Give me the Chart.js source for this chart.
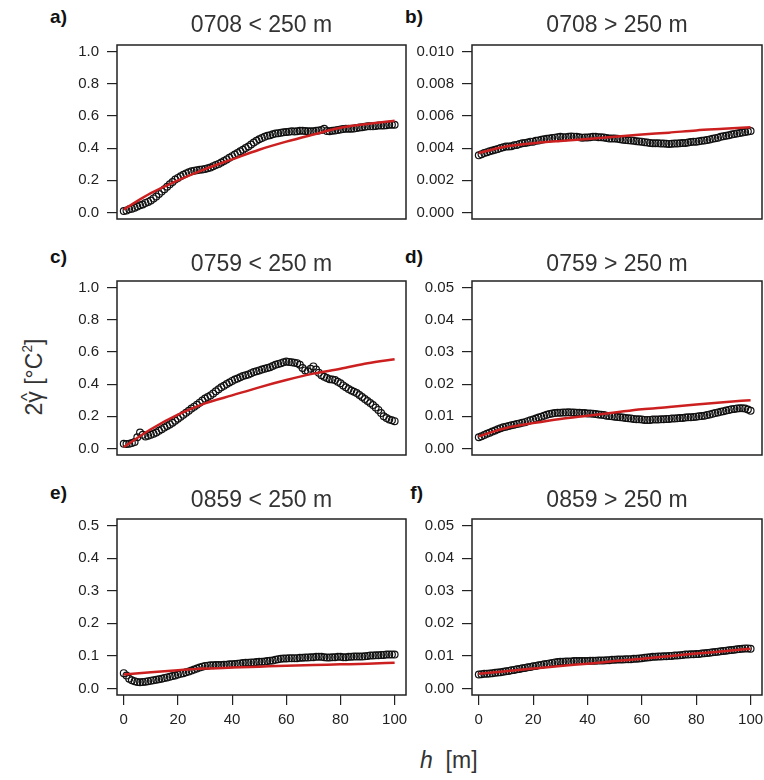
<!DOCTYPE html>
<html>
<head>
<meta charset="utf-8">
<script src="https://cdn.jsdelivr.net/npm/chart.js@4.4.1/dist/chart.umd.min.js"></script>
<style>
  html, body { margin:0; padding:0; background:#fff; width:764px; height:780px; overflow:hidden; }
  #wrap { position:relative; width:764px; height:780px; font-family:'Liberation Sans', Arial, sans-serif; color:#222; }
  canvas { position:absolute; }
  .title { position:absolute; font-size:23px; line-height:23px; text-align:center; color:#333; white-space:nowrap; }
  .plab { position:absolute; font-size:19px; line-height:19px; font-weight:bold; text-align:right; width:40px; color:#111; }
  #ylab { position:absolute; left:-66px; top:361.5px; width:200px; height:30px; line-height:30px; font-size:23px; text-align:center; transform:rotate(-90deg); color:#333; white-space:nowrap; }
  #xlab { position:absolute; left:420px; top:748.5px; font-size:23px; line-height:23px; color:#333; white-space:nowrap; }
  .hat { position:relative; display:inline-block; }
  .hat .h { position:absolute; left:0; width:100%; text-align:center; top:-0.42em; font-size:0.75em; }
  sup { font-size:0.6em; vertical-align:0.75em; line-height:0; }
</style>
</head>
<body>
<div id="wrap">
  <div class="plab" style="left:27px;top:7px">a)</div>
  <div class="plab" style="left:383px;top:7px">b)</div>
  <div class="plab" style="left:27px;top:246.5px">c)</div>
  <div class="plab" style="left:383px;top:246.5px">d)</div>
  <div class="plab" style="left:27px;top:483px">e)</div>
  <div class="plab" style="left:383px;top:483px">f)</div>
  <div id="ylab">2<span class="hat">γ<span class="h">^</span></span> [°C<sup>2</sup>]</div>
  <div id="xlab"><i>h</i>&nbsp;&nbsp;[m]</div>
</div>
<script>
// ---- data ----
const lags = [0,1,2,3,4,5,6,7,8,9,10,11,12,13,14,15,16,17,18,19,20,21,22,23,24,25,26,27,28,29,30,
              31,32,33,34,35,36,37,38,39,40,41,42,43,44,45,46,47,48,49,50,51,52,53,54,55,56,57,58,59,60,
              61,62,63,64,65,66,67,68,69,70,71,72,73,74,75,76,77,78,79,80,81,82,83,84,85,86,87,88,89,90,
              91,92,93,94,95,96,97,98,99,100];
const fitLags = [0,10,20,30,40,50,60,70,80,90,100];
const xTicks = [0,20,40,60,80,100];

const titles = ["0708 < 250 m","0708 > 250 m","0759 < 250 m","0759 > 250 m","0859 < 250 m","0859 > 250 m"];

const semA = [0.010,0.012,0.020,0.024,0.030,0.038,0.045,0.050,0.060,0.066,0.075,0.088,0.100,0.115,0.130,0.145,0.160,0.175,0.190,0.205,
              0.215,0.225,0.235,0.243,0.250,0.256,0.260,0.262,0.265,0.268,0.270,0.275,0.280,0.288,0.295,0.302,0.310,0.320,0.330,0.340,
              0.350,0.360,0.370,0.380,0.390,0.400,0.410,0.422,0.435,0.445,0.455,0.462,0.470,0.476,0.480,0.486,0.490,0.492,0.495,0.498,
              0.500,0.502,0.505,0.503,0.505,0.508,0.507,0.506,0.505,0.504,0.505,0.508,0.510,0.512,0.520,0.506,0.505,0.508,0.510,0.512,
              0.515,0.518,0.520,0.520,0.520,0.522,0.525,0.528,0.530,0.532,0.535,0.535,0.535,0.538,0.540,0.540,0.540,0.542,0.545,0.545,0.545];
const fitA = [0.02,0.12,0.20,0.27,0.33,0.39,0.44,0.484,0.526,0.55,0.57];

const semB = [0.00355,0.00362,0.0037,0.00375,0.0038,0.00385,0.0039,0.00395,0.0040,0.00405,0.0041,0.0041,0.00412,0.00418,0.0042,0.00425,0.0043,0.00432,0.00435,0.0044,
              0.0044,0.00445,0.00448,0.00452,0.00455,0.00458,0.0046,0.00462,0.00465,0.00468,0.0047,0.00468,0.00468,0.0047,0.00472,0.00471,0.0047,0.00467,0.00465,0.00466,
              0.00466,0.00468,0.0047,0.0047,0.00468,0.00467,0.00466,0.00463,0.0046,0.0046,0.0046,0.00458,0.00455,0.00452,0.0045,0.00449,0.00448,0.00445,0.00442,0.00441,
              0.0044,0.00437,0.00435,0.00432,0.0043,0.0043,0.0043,0.00429,0.00428,0.00427,0.00426,0.00427,0.00428,0.00429,0.0043,0.00431,0.00432,0.00435,0.00438,0.00439,
              0.0044,0.00443,0.00445,0.00447,0.0045,0.00454,0.00458,0.00461,0.00465,0.0047,0.00474,0.00477,0.0048,0.00484,0.00488,0.00491,0.00494,0.00497,0.005,0.00503,0.00506];
const fitB = [0.0037,0.0041,0.0043,0.00444,0.00456,0.0047,0.00484,0.00496,0.0051,0.0052,0.0053];

const semC = [0.030,0.028,0.030,0.035,0.040,0.070,0.100,0.085,0.075,0.080,0.085,0.092,0.100,0.110,0.120,0.130,0.140,0.150,0.160,0.172,
              0.185,0.198,0.210,0.222,0.235,0.248,0.260,0.272,0.285,0.298,0.310,0.320,0.330,0.342,0.355,0.368,0.380,0.390,0.400,0.410,
              0.420,0.428,0.435,0.442,0.450,0.455,0.460,0.468,0.475,0.480,0.485,0.490,0.495,0.500,0.505,0.512,0.520,0.525,0.530,0.535,
              0.540,0.538,0.535,0.532,0.530,0.520,0.500,0.485,0.480,0.495,0.510,0.490,0.470,0.455,0.445,0.438,0.430,0.428,0.425,0.415,
              0.405,0.392,0.380,0.370,0.360,0.352,0.345,0.332,0.320,0.308,0.295,0.282,0.270,0.255,0.240,0.220,0.200,0.190,0.180,0.175,0.170];
const fitC = [0.01,0.12,0.21,0.28,0.33,0.38,0.425,0.465,0.495,0.53,0.555];

const semD = [0.0035,0.0038,0.0042,0.0046,0.0049,0.0053,0.0056,0.0060,0.0063,0.0066,0.0068,0.0070,0.0072,0.0074,0.0076,0.0078,0.0080,0.0082,0.0085,0.0088,
              0.0090,0.0093,0.0096,0.0099,0.0102,0.0105,0.0107,0.0109,0.0110,0.0111,0.0111,0.0112,0.0112,0.0113,0.0112,0.0112,0.0111,0.0111,0.0110,0.0110,
              0.0109,0.0109,0.0108,0.0107,0.0106,0.0105,0.0104,0.0102,0.0101,0.0100,0.0099,0.0098,0.0097,0.0096,0.0095,0.0094,0.0093,0.0092,0.0091,0.0091,
              0.0090,0.0089,0.0089,0.0089,0.0090,0.0090,0.0090,0.0091,0.0091,0.0092,0.0092,0.0093,0.0093,0.0094,0.0095,0.0095,0.0096,0.0097,0.0097,0.0098,
              0.0099,0.0100,0.0101,0.0102,0.0104,0.0106,0.0108,0.0110,0.0112,0.0114,0.0116,0.0118,0.0120,0.0122,0.0123,0.0124,0.0125,0.0125,0.0124,0.0121,0.0117];
const fitD = [0.0038,0.0064,0.0079,0.0092,0.0102,0.0112,0.0122,0.0129,0.0137,0.0144,0.015];

const semE = [0.047,0.040,0.030,0.025,0.022,0.020,0.019,0.020,0.021,0.022,0.024,0.025,0.027,0.028,0.030,0.032,0.034,0.036,0.038,0.040,
              0.043,0.045,0.047,0.050,0.052,0.055,0.058,0.061,0.064,0.067,0.069,0.070,0.071,0.071,0.072,0.072,0.072,0.073,0.073,0.074,
              0.074,0.075,0.076,0.077,0.078,0.079,0.079,0.080,0.080,0.081,0.082,0.082,0.083,0.084,0.085,0.086,0.088,0.090,0.091,0.092,
              0.092,0.093,0.093,0.093,0.093,0.094,0.094,0.095,0.095,0.096,0.096,0.097,0.097,0.097,0.096,0.095,0.095,0.096,0.096,0.097,
              0.097,0.096,0.096,0.097,0.097,0.098,0.098,0.098,0.098,0.099,0.100,0.101,0.101,0.102,0.102,0.103,0.103,0.104,0.104,0.104,0.104];
const fitE = [0.043,0.05,0.056,0.061,0.064,0.067,0.07,0.072,0.074,0.076,0.079];

const semF = [0.0043,0.0044,0.0045,0.0045,0.0046,0.0047,0.0048,0.0049,0.0050,0.0051,0.0053,0.0054,0.0056,0.0057,0.0059,0.0060,0.0062,0.0063,0.0065,0.0066,
              0.0068,0.0069,0.0071,0.0072,0.0074,0.0075,0.0077,0.0078,0.0080,0.0081,0.0082,0.0082,0.0083,0.0083,0.0083,0.0084,0.0084,0.0084,0.0084,0.0084,
              0.0084,0.0085,0.0085,0.0085,0.0086,0.0086,0.0086,0.0087,0.0087,0.0088,0.0088,0.0089,0.0089,0.0089,0.0090,0.0090,0.0090,0.0091,0.0091,0.0092,
              0.0093,0.0094,0.0095,0.0096,0.0097,0.0097,0.0098,0.0098,0.0099,0.0099,0.0100,0.0100,0.0101,0.0101,0.0102,0.0103,0.0104,0.0104,0.0105,0.0105,
              0.0106,0.0106,0.0107,0.0108,0.0109,0.0110,0.0111,0.0112,0.0113,0.0114,0.0115,0.0116,0.0117,0.0118,0.0119,0.0120,0.0121,0.0122,0.0123,0.0123,0.0122];
const fitF = [0.0045,0.0053,0.0061,0.0069,0.0076,0.0084,0.0091,0.0099,0.0107,0.0114,0.0122];

const yTicksA = [0,0.2,0.4,0.6,0.8,1.0];
const yTicksB = [0,0.002,0.004,0.006,0.008,0.010];
const yTicksD = [0,0.01,0.02,0.03,0.04,0.05];
const yTicksE = [0,0.1,0.2,0.3,0.4,0.5];

// ---- layout ----
const panels = [
  {sem:semA, fit:fitA, yt:yTicksA, top:1.0,  dec:1, box:[117,42,406,222],  xaxis:false, title:13},
  {sem:semB, fit:fitB, yt:yTicksB, top:0.010,dec:3, box:[472,42,762,222],  xaxis:false, title:13},
  {sem:semC, fit:fitC, yt:yTicksA, top:1.0,  dec:1, box:[117,278,406,458], xaxis:false, title:252},
  {sem:semD, fit:fitD, yt:yTicksD, top:0.05, dec:2, box:[472,278,762,458], xaxis:false, title:252},
  {sem:semE, fit:fitE, yt:yTicksE, top:0.5,  dec:1, box:[117,516,406,695], xaxis:true,  title:488},
  {sem:semF, fit:fitF, yt:yTicksD, top:0.05, dec:2, box:[472,516,762,695], xaxis:true,  title:488},
];

const PAD = 14, YW = 62, XH = 40;
const FONT = "'Liberation Sans', Arial, sans-serif";
const wrap = document.getElementById('wrap');

const boxPlugin = {
  id:'box',
  afterDraw(chart){
    const {ctx, chartArea:{left,top,right,bottom}} = chart;
    ctx.save();
    ctx.strokeStyle = '#222';
    ctx.lineWidth = 1.5;
    ctx.strokeRect(left, top, right-left, bottom-top);
    ctx.restore();
  }
};

panels.forEach((p, i) => {
  const [L,T,R,B] = p.box;
  const c = document.createElement('canvas');
  const w = (R-L) + YW + PAD*2;
  const h = (B-T) + PAD*2 + (p.xaxis ? XH : 0);
  c.width = w; c.height = h;
  c.style.left = (L - YW - PAD) + 'px';
  c.style.top = (T - PAD) + 'px';
  c.style.width = w + 'px'; c.style.height = h + 'px';
  wrap.appendChild(c);

  const t = document.createElement('div');
  t.className = 'title';
  t.style.left = L + 'px'; t.style.width = (R-L) + 'px'; t.style.top = p.title + 'px';
  t.textContent = titles[i];
  wrap.appendChild(t);

  new Chart(c, {
    type:'scatter',
    data:{
      datasets:[
        { data: fitLags.map((x,k)=>({x, y:p.fit[k]})), showLine:true, borderColor:'#cc2020', borderWidth:2.5,
          pointRadius:0, cubicInterpolationMode:'monotone', fill:false },
        { data: lags.map((x,k)=>({x, y:p.sem[k]})), showLine:false, pointRadius:3.4, pointBorderWidth:1.2,
          pointBorderColor:'#111', pointBackgroundColor:'rgba(0,0,0,0)', borderColor:'#111', backgroundColor:'rgba(0,0,0,0)' }
      ]
    },
    options:{
      responsive:false, animation:false, devicePixelRatio:1,
      layout:{ padding:{ left:PAD, right:PAD, top:PAD, bottom:PAD } },
      plugins:{ legend:{display:false}, tooltip:{enabled:false}, title:{display:false} },
      scales:{
        x:{
          type:'linear', min:-2.5, max:104.2, display:p.xaxis,
          afterBuildTicks(s){ s.ticks = xTicks.map(v=>({value:v})); },
          afterFit(s){ s.height = p.xaxis ? XH : 0; },
          grid:{ drawOnChartArea:false, drawTicks:true, tickLength:10, color:'#222', lineWidth:1.2 },
          border:{ display:false },
          ticks:{ color:'#222', font:{family:FONT, size:15}, padding:6, maxRotation:0, autoSkip:false,
                  callback:(v)=>String(v) }
        },
        y:{
          type:'linear', min:-0.04*p.top, max:1.04*p.top,
          afterBuildTicks(s){ s.ticks = p.yt.map(v=>({value:v})); },
          afterFit(s){ s.width = YW; },
          grid:{ drawOnChartArea:false, drawTicks:true, tickLength:10, color:'#222', lineWidth:1.2 },
          border:{ display:false },
          ticks:{ color:'#222', font:{family:FONT, size:15}, padding:8, autoSkip:false,
                  callback:(v)=>Number(v).toFixed(p.dec) }
        }
      }
    },
    plugins:[boxPlugin]
  });
});
</script>
</body>
</html>
